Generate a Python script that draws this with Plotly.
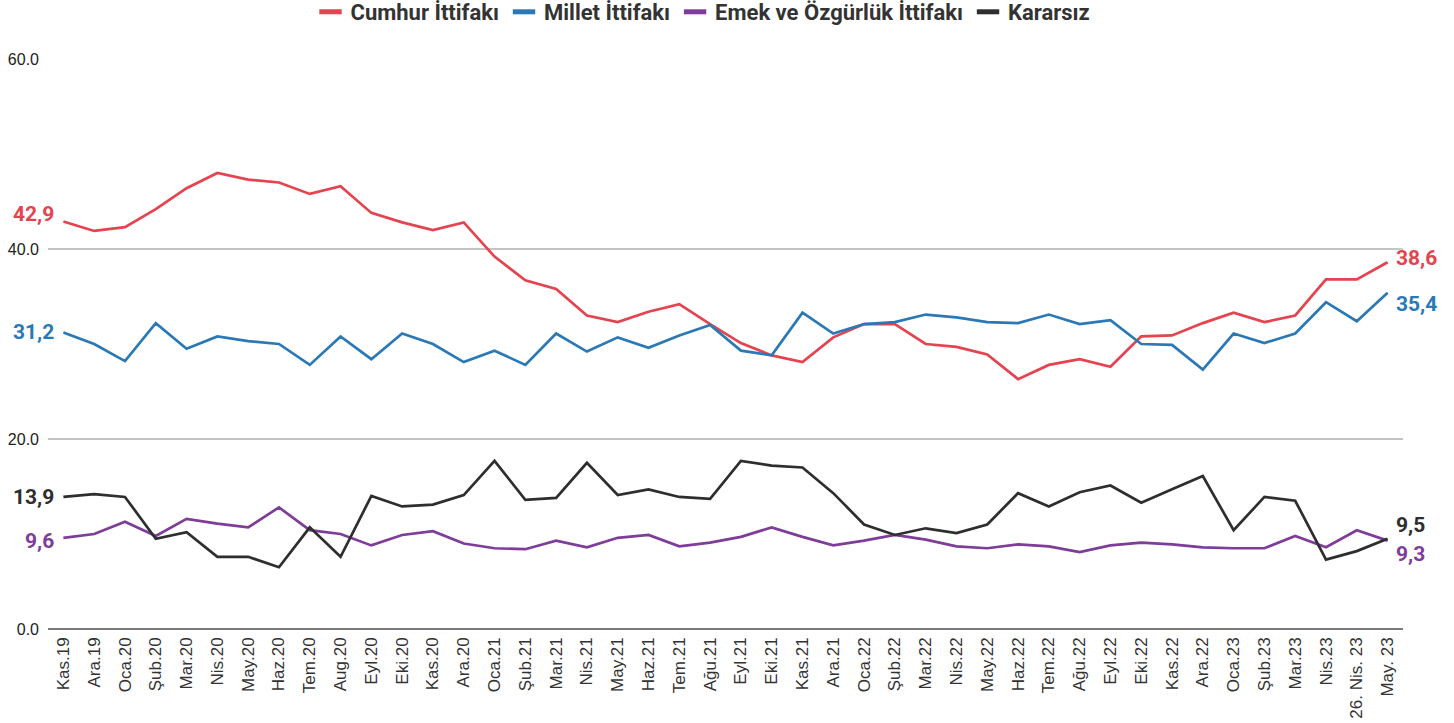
import plotly.graph_objects as go

months = ["Kas.19","Ara.19","Oca.20","Şub.20","Mar.20","Nis.20","May.20","Haz.20","Tem.20","Aug.20",
          "Eyl.20","Eki.20","Kas.20","Ara.20","Oca.21","Şub.21","Mar.21","Nis.21","May.21","Haz.21",
          "Tem.21","Ağu.21","Eyl.21","Eki.21","Kas.21","Ara.21","Oca.22","Şub.22","Mar.22","Nis.22",
          "May.22","Haz.22","Tem.22","Ağu.22","Eyl.22","Eki.22","Kas.22","Ara.22","Oca.23","Şub.23",
          "Mar.23","Nis.23","26. Nis. 23","May. 23"]

cumhur = [42.9,41.9,42.3,44.2,46.4,48.0,47.3,47.0,45.8,46.6,
          43.8,42.8,42.0,42.8,39.2,36.7,35.8,33.0,32.3,33.4,
          34.2,32.1,30.1,28.8,28.1,30.7,32.1,32.1,30.0,29.7,
          28.9,26.3,27.8,28.4,27.6,30.8,30.9,32.2,33.3,32.3,
          33.0,36.8,36.8,38.6]

millet = [31.2,30.0,28.2,32.2,29.5,30.8,30.3,30.0,27.8,30.8,
          28.4,31.1,30.0,28.1,29.3,27.8,31.1,29.2,30.7,29.6,
          30.9,32.0,29.3,28.8,33.3,31.1,32.1,32.3,33.1,32.8,
          32.3,32.2,33.1,32.1,32.5,30.0,29.9,27.3,31.1,30.1,
          31.1,34.4,32.4,35.4]

emek = [9.6,10.0,11.3,9.8,11.6,11.1,10.7,12.8,10.4,10.0,
        8.8,9.9,10.3,9.0,8.5,8.4,9.3,8.6,9.6,9.9,
        8.7,9.1,9.7,10.7,9.7,8.8,9.3,9.9,9.4,8.7,
        8.5,8.9,8.7,8.1,8.8,9.1,8.9,8.6,8.5,8.5,
        9.8,8.6,10.4,9.3]

kararsiz = [13.9,14.2,13.9,9.5,10.2,7.6,7.6,6.5,10.7,7.6,
            14.0,12.9,13.1,14.1,17.7,13.6,13.8,17.5,14.1,14.7,
            13.9,13.7,17.7,17.2,17.0,14.3,11.0,9.9,10.6,10.1,
            11.0,14.3,12.9,14.4,15.1,13.3,14.7,16.1,10.4,13.9,
            13.5,7.3,8.2,9.5]

series = [
    ("Cumhur İttifakı", cumhur, "#e4434f"),
    ("Millet İttifakı", millet, "#2a79b6"),
    ("Emek ve Özgürlük İttifakı", emek, "#7e3d99"),
    ("Kararsız", kararsiz, "#2e2e2e"),
]

# label vertical nudges (px) to avoid overlap
start_shift = {"Cumhur İttifakı": 7, "Millet İttifakı": 1, "Emek ve Özgürlük İttifakı": -3, "Kararsız": 0}
end_shift = {"Cumhur İttifakı": 4, "Millet İttifakı": -11, "Emek ve Özgürlük İttifakı": -13, "Kararsız": 14}

fig = go.Figure()
for name, vals, col in series:
    fig.add_trace(go.Scatter(x=months, y=vals, mode="lines", name=name,
                             line=dict(color=col, width=2.7), showlegend=False,
                             hoverinfo="skip"))
    fig.add_trace(go.Scatter(x=[None], y=[None], mode="markers", name=name,
                             marker=dict(symbol="line-ew", size=17, color=col,
                                         line=dict(color=col, width=5)),
                             showlegend=True))

def fmt(v):
    return f"{v:.1f}".replace(".", ",")

for name, vals, col in series:
    fig.add_annotation(x=months[0], y=vals[0], xref="x", yref="y", text=f"<b>{fmt(vals[0])}</b>",
                       showarrow=False, xanchor="right", yanchor="middle", xshift=-7,
                       yshift=start_shift[name],
                       font=dict(family="Roboto", size=21, color=col, shadow="0px 0px 3px white"))
    fig.add_annotation(x=months[-1], y=vals[-1], xref="x", yref="y", text=f"<b>{fmt(vals[-1])}</b>",
                       showarrow=False, xanchor="left", yanchor="middle", xshift=6,
                       yshift=end_shift[name],
                       font=dict(family="Roboto", size=21, color=col, shadow="0px 0px 3px white"))

fig.update_layout(
    width=1454, height=723,
    margin=dict(l=48, r=51, t=59, b=94, autoexpand=False),
    paper_bgcolor="white", plot_bgcolor="white",
    legend=dict(orientation="h", x=0.4835, xanchor="center", xref="container",
                y=1 - 12 / 723, yanchor="middle", yref="container",
                font=dict(family="Roboto", size=22, color="#333333", weight="bold"),
                itemwidth=30, bgcolor="rgba(0,0,0,0)"),
    font=dict(family="Liberation Sans", color="#333333"),
)
fig.update_xaxes(type="category", range=[-0.5, 43.5], tickangle=-90, automargin=False,
                 tickfont=dict(family="Liberation Sans", size=17, color="#333333"),
                 ticklabelstandoff=4,
                 showgrid=False, showline=False, ticks="", fixedrange=True)
fig.update_yaxes(range=[0, 60], tickvals=[0, 20, 40, 60], tickformat=".1f", automargin=False,
                 tickfont=dict(family="Liberation Sans", size=16, color="#222222"),
                 ticklabelstandoff=8,
                 showgrid=True, gridcolor="#c4c4c4", gridwidth=1.5,
                 zeroline=True, zerolinecolor="#7a7a7a", zerolinewidth=2,
                 showline=False, ticks="", fixedrange=True)

fig.write_html("out.html", config={"displayModeBar": False},
               post_script="document.body.style.margin='0';")
